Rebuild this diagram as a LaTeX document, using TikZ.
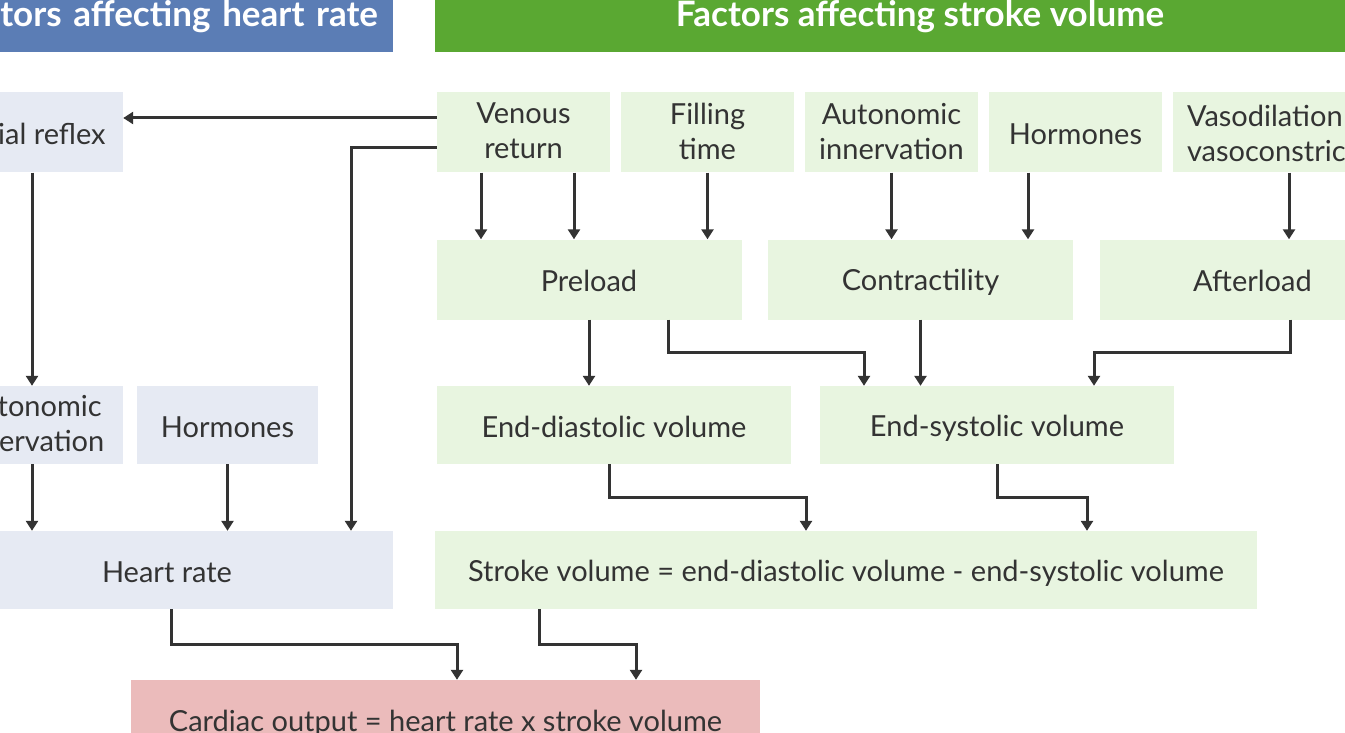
\documentclass[tikz,border=0pt]{standalone}
\usepackage{fontspec}
\setmainfont{Lato}
\usetikzlibrary{arrows.meta,calc}
\definecolor{hrblue}{HTML}{5B7DB5}
\definecolor{svgreen}{HTML}{5AA832}
\definecolor{lgreen}{HTML}{E8F5E0}
\definecolor{lblue}{HTML}{E6EAF3}
\definecolor{lpink}{HTML}{EBBBBB}
\definecolor{ink}{HTML}{333333}
\newcommand\boxstrut{\rule[-3pt]{0pt}{30pt}}
\tikzset{
  box/.style={rectangle, inner sep=0pt, minimum height=80pt, align=center, text=ink,
    font=\fontsize{29}{35}\selectfont,
    execute at begin node=\boxstrut, execute at end node=\boxstrut},
  gbox/.style={box, fill=lgreen},
  bbox/.style={box, fill=lblue},
  header/.style={rectangle, inner ysep=0pt, minimum height=70pt, text=white,
    font=\fontsize{35}{40}\selectfont\bfseries},
  arr/.style={draw=ink, line width=3pt, -{Triangle[width=12pt,length=10pt]}},
}
\begin{document}
\begin{tikzpicture}[x=1pt,y=-1pt]
\useasboundingbox (0,0) rectangle (1345,733);
\clip (0,0) rectangle (1345,733);
\node[header, fill=hrblue, text width=463pt, align=right, inner xsep=15pt] (hdrhr) at (146.5,17) {Factors affecting heart rate};
\node[header, fill=svgreen, minimum width=970pt] (hdrsv) at (920,17) {Factors affecting stroke volume};

\node[bbox, minimum width=182pt] (ar) at (32,132.5) {Atrial reflex};
\node[gbox, minimum width=173pt] (vr) at (523.5,132.5) {Venous\\return};
\node[gbox, minimum width=173pt] (ft) at (707.5,132.5) {Filling\\time};
\node[gbox, minimum width=173pt] (ai) at (891.5,132.5) {Autonomic\\innervation};
\node[gbox, minimum width=173pt] (hs) at (1075.5,132.5) {Hormones};
\node[gbox, inner xsep=14pt, text width=145pt, align=left] (vv) at (1259.5,132.5) {Vasodilation\\vasoconstriction};

\node[gbox, minimum width=305pt] (pre) at (589,279.5) {Preload};
\node[gbox, minimum width=305pt] (con) at (920.5,279.5) {Contractility};
\node[gbox, minimum width=305pt] (aft) at (1252.5,279.5) {Afterload};

\node[bbox, minimum width=182pt, minimum height=78pt] (an) at (32,425) {Autonomic\\innervation};
\node[bbox, minimum width=181pt, minimum height=78pt] (hb) at (227.5,425) {Hormones};
\node[gbox, minimum width=354pt, minimum height=78pt] (edv) at (614,425) {End-diastolic volume};
\node[gbox, minimum width=354pt, minimum height=78pt] (esv) at (997,425) {End-systolic volume};

\node[bbox, minimum width=452pt, minimum height=78pt] (hr) at (167,570) {Heart rate};
\node[gbox, minimum width=822pt, minimum height=78pt] (sv) at (846,570) {Stroke volume = end-diastolic volume - end-systolic volume};

\node[box, fill=lpink, minimum width=629pt] (co) at (445.5,720) {Cardiac output = heart rate x stroke volume};

\coordinate (vr1) at ([yshift=14.5pt]vr.west);
\coordinate (vr2) at ([yshift=-15.5pt]vr.west);
\coordinate (hr3) at ([xshift=184pt]hr.north);
\draw[arr] (vr1) -- (vr1 -| ar.east);
\draw[arr] (vr2) -| (hr3);
\draw[arr] (ar.south) -- (an.north);
\draw[arr] (an.south) -- (an.south |- hr.north);
\draw[arr] (hb.south) -- (hb.south |- hr.north);

\coordinate (va) at ([xshift=-42.5pt]vr.south);
\coordinate (vb) at ([xshift=50.5pt]vr.south);
\coordinate (hs1) at ([xshift=-47.5pt]hs.south);
\coordinate (vv1) at ([xshift=29.5pt]vv.south);
\draw[arr] (va) -- (va |- pre.north);
\draw[arr] (vb) -- (vb |- pre.north);
\draw[arr] (ft.south) -- (ft.south |- pre.north);
\draw[arr] (ai.south) -- (ai.south |- con.north);
\draw[arr] (hs1) -- (hs1 |- con.north);
\draw[arr] (vv1) -- (vv1 |- aft.north);

\coordinate (p2) at ([xshift=79pt]pre.south);
\coordinate (e2) at ([xshift=-133pt]esv.north);
\coordinate (a2) at ([xshift=37.5pt]aft.south);
\coordinate (e3) at ([xshift=97pt]esv.north);
\draw[arr] (pre.south) -- (pre.south |- edv.north);
\draw[arr] (p2) |- ($(p2)!.5!(e2)$) -| (e2);
\draw[arr] (con.south) -- (con.south |- esv.north);
\draw[arr] (a2) |- ($(a2)!.5!(e3)$) -| (e3);

\coordinate (d1) at ([xshift=-5pt]edv.south);
\coordinate (s1) at ([xshift=-40pt]sv.north);
\coordinate (s2) at ([xshift=241pt]sv.north);
\draw[arr] (d1) |- ($(d1)!.5!(s1)$) -| (s1);
\draw[arr] (esv.south) |- ($(esv.south)!.5!(s2)$) -| (s2);

\coordinate (h1) at ([xshift=4pt]hr.south);
\coordinate (s3) at ([xshift=-307pt]sv.south);
\coordinate (c1) at ([xshift=11.5pt]co.north);
\coordinate (c2) at ([xshift=190.5pt]co.north);
\draw[arr] (h1) |- ($(h1)!.5!(c1)$) -| (c1);
\draw[arr] (s3) |- ($(s3)!.5!(c2)$) -| (c2);
\end{tikzpicture}
\end{document}
